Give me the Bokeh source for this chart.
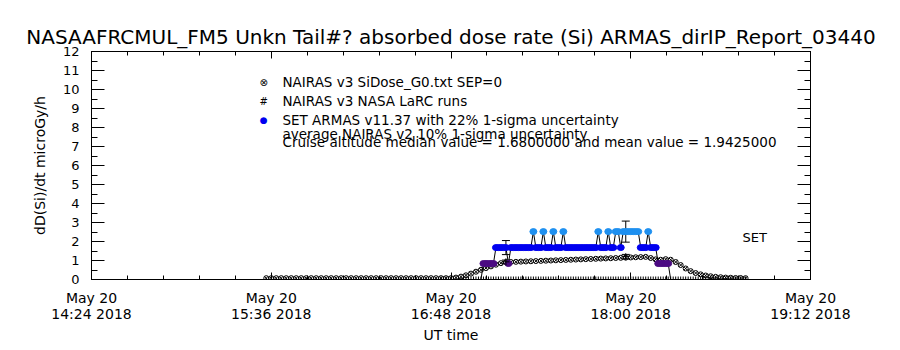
import numpy as np
import pandas as pd
from bokeh.plotting import figure
from bokeh.models import (Range1d, LinearAxis, DatetimeAxis, FixedTicker, SingleIntervalTicker,
                          Whisker, TeeHead, ColumnDataSource, Label, CustomJSTickFormatter)
from bokeh.embed import file_html
from bokeh.resources import INLINE

DAY = "2018-05-20"
TITLE = "NASAAFRCMUL_FM5 Unkn Tail#? absorbed dose rate (Si) ARMAS_dirIP_Report_03440"
Y_LABEL = "dD(Si)/dt microGy/h"
X_LABEL = "UT time"

x_start, x_end = "14:24", "19:12"
x_ticks = ["14:24", "15:36", "16:48", "18:00", "19:12"]
x_tick_labels = ["May 20\n14:24 2018", "May 20\n15:36 2018", "May 20\n16:48 2018",
                 "May 20\n18:00 2018", "May 20\n19:12 2018"]
y_min, y_max = 0, 12

# NAIRAS v3 SiDose_G0.txt SEP=0 : one value every 2 minutes from 15:34
nairas_start = "15:34"
nairas_step_min = 2
nairas_vals = [0.07] * 38 + [
    0.10, 0.15, 0.22, 0.31, 0.41, 0.51, 0.60, 0.69, 0.78, 0.86,
    0.91, 0.92, 0.93, 0.94, 0.95, 0.96, 0.97, 0.98, 0.99, 1.00,
    1.01, 1.02, 1.03, 1.04, 1.05, 1.06, 1.07, 1.08, 1.09, 1.10,
    1.11, 1.12, 1.13, 1.14, 1.15, 1.16, 1.17, 1.18, 1.19, 1.13,
    1.06, 1.04, 1.07, 1.04, 0.92, 0.76, 0.58, 0.44, 0.34, 0.27,
    0.21, 0.17, 0.14, 0.12, 0.10, 0.09, 0.08, 0.08, 0.07]

# SET ARMAS v11.37 : one value every minute from 17:00
set_start = "17:00"
set_vals = ([0.0] + [0.84] * 5 + [1.68] * 5 + [0.84] + [1.68] * 9 +
            [2.52] + [1.68] * 3 + [2.52] + [1.68] * 3 + [2.52] + [1.68] * 3 + [2.52] +
            [1.68] * 13 + [2.52] + [1.68] * 3 + [2.52] + [1.68] * 2 + [2.52] * 2 +
            [1.68] + [2.52] * 7 + [1.68] * 3 + [2.52] + [1.68] * 3 + [0.84] * 5 + [0.0])
set_level_colors = {0.84: "#4b0a82", 1.68: "#0000f0", 2.52: "#1e90f0"}

# NAIRAS v3 NASA LaRC runs (zero outside runs), every minute
larc_start, larc_end = "16:44", "18:46"
larc_run_times = ["17:10", "17:58"]
larc_run_vals = [0.93, 1.20]
nairas_unc = 0.10
set_err_times = ["17:10", "17:58"]
set_err_vals = [1.68, 2.52]
set_unc = 0.22

legend_lines = ["NAIRAS v3 SiDose_G0.txt SEP=0", "NAIRAS v3 NASA LaRC runs",
                "SET ARMAS v11.37 with 22% 1-sigma uncertainty",
                "average NAIRAS v2 10% 1-sigma uncertainty",
                "Cruise altitude median value = 1.6800000 and mean value = 1.9425000"]


def ts(hhmm):
    return pd.Timestamp(f"{DAY} {hhmm}")


def ms(t):
    return int(t.value // 10**6)


FONT = "DejaVu Sans"

p = figure(width=900, height=350, x_axis_type="datetime",
           x_range=Range1d(ts(x_start), ts(x_end)), y_range=Range1d(y_min, y_max),
           output_backend="svg", toolbar_location=None,
           min_border_left=91, min_border_right=90, min_border_top=51, min_border_bottom=71,
           background_fill_color="white", border_fill_color="white")
p.grid.visible = False
p.outline_line_color = "black"

p.title.text = TITLE
p.title.align = "center"
p.title.text_font = FONT
p.title.text_font_size = "20px"
p.title.text_font_style = "normal"
p.title.text_color = "black"
p.title.standoff = 5

major = [ms(ts(t)) for t in x_ticks]
minor = list(np.arange(major[0], major[-1] + 1, (major[1] - major[0]) / 5))
xticker = FixedTicker(ticks=major, minor_ticks=minor)

xa = p.xaxis[0]
xa.ticker = xticker
xa.major_label_overrides = {m: lab for m, lab in zip(major, x_tick_labels)}
xa.axis_label = X_LABEL

ya = p.yaxis[0]
ya.ticker = SingleIntervalTicker(interval=1, num_minor_ticks=2)
ya.axis_label = Y_LABEL

top = DatetimeAxis(ticker=xticker, formatter=CustomJSTickFormatter(code="return ''"))
right = LinearAxis(ticker=SingleIntervalTicker(interval=1, num_minor_ticks=2),
                   formatter=CustomJSTickFormatter(code="return ''"))
p.add_layout(top, "above")
p.add_layout(right, "right")

for ax, mj, mn in [(xa, 7, 4), (top, 7, 4), (ya, 13, 6), (right, 13, 6)]:
    ax.major_tick_in = mj
    ax.major_tick_out = 0
    ax.minor_tick_in = mn
    ax.minor_tick_out = 0
    ax.axis_line_color = "black"
    ax.major_tick_line_color = "black"
    ax.minor_tick_line_color = "black"
    ax.major_label_text_font = FONT
    ax.major_label_text_font_size = "14px"
    ax.major_label_text_color = "black"
    ax.axis_label_text_font = FONT
    ax.axis_label_text_font_size = "14px"
    ax.axis_label_text_font_style = "normal"
    ax.axis_label_text_color = "black"
for ax in (top, right):
    ax.major_label_standoff = 0
xa.major_label_standoff = 10
xa.major_label_text_line_height = 1.0
xa.axis_label_standoff = 2
ya.major_label_standoff = 12
ya.axis_label_standoff = 12
ya.major_label_text_font_size = "13px"

# NAIRAS SiDose series
n_t = [ts(nairas_start) + pd.Timedelta(minutes=nairas_step_min * i) for i in range(len(nairas_vals))]
p.scatter(n_t, nairas_vals, marker="circle_x", size=5, line_color="black",
          fill_color=None, line_width=1)

# LaRC runs at zero (comb along the axis)
larc_t = list(pd.date_range(ts(larc_start), ts(larc_end), freq="1min"))
p.scatter(larc_t, [0.0] * len(larc_t), marker="cross", size=6, line_color="black", line_width=1)

# SET ARMAS
s_t = [ts(set_start) + pd.Timedelta(minutes=i) for i in range(len(set_vals))]
p.line(s_t, set_vals, line_color="black", line_width=1)
nz = [(t, v) for t, v in zip(s_t, set_vals) if v > 0]
src = ColumnDataSource(dict(x=[a for a, _ in nz], y=[b for _, b in nz],
                            c=[set_level_colors[b] for _, b in nz]))
p.ellipse("x", "y", width=7, height=6, width_units="screen", height_units="screen",
          fill_color="c", line_color="c", source=src)

# LaRC runs and error bars
lr_t = [ts(t) for t in larc_run_times]
p.scatter(lr_t, larc_run_vals, marker="cross", size=7, line_color="black", line_width=1)
esrc = ColumnDataSource(dict(
    x=[ts(t) for t in set_err_times] + lr_t,
    lo=[v * (1 - set_unc) for v in set_err_vals] + [v * (1 - nairas_unc) for v in larc_run_vals],
    hi=[v * (1 + set_unc) for v in set_err_vals] + [v * (1 + nairas_unc) for v in larc_run_vals]))
p.add_layout(Whisker(source=esrc, base="x", lower="lo", upper="hi", dimension="height",
                     line_color="black", line_width=1,
                     lower_head=TeeHead(size=8, line_color="black", line_width=1),
                     upper_head=TeeHead(size=8, line_color="black", line_width=1)))

# Legend (IDL style, no box)
leg_x = ms(ts("15:40:30"))
icon_x = ms(ts("15:33:00"))
leg_y = [10.37, 9.37, 8.37, 7.68, 7.26]
for txt, yv in zip(legend_lines, leg_y):
    p.add_layout(Label(x=leg_x, y=yv, text=txt, text_font=FONT, text_font_size="13.5px",
                       text_baseline="middle", text_color="black"))
icons = [("⊗", "black", "10px"), ("#", "black", "10px"), ("●", "#0000f0", "9px")]
for (sym, col, fs), yv in zip(icons, leg_y[:3]):
    p.add_layout(Label(x=icon_x, y=yv, text=sym, text_font=FONT, text_font_size=fs,
                       text_baseline="middle", text_align="center", text_color=col))

p.add_layout(Label(x=ms(ts("18:44:48")), y=2.2, text="SET", text_font=FONT,
                   text_font_size="13px", text_baseline="middle", text_color="black"))

open("out.html", "w").write(file_html(p, INLINE))
